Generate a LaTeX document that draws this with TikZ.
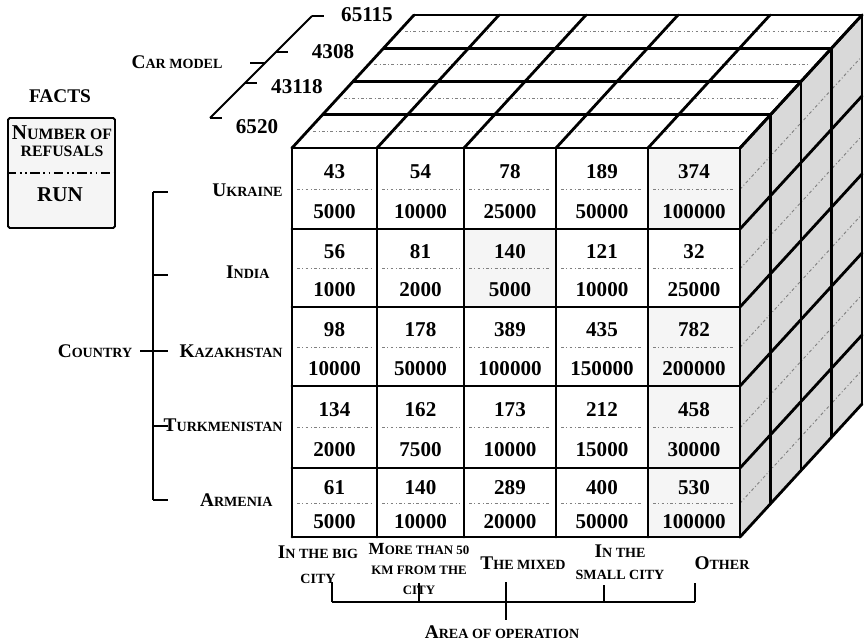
\documentclass[tikz,border=0pt]{standalone}
\usepackage{fontspec}
\setmainfont{Liberation Serif}
\usetikzlibrary{positioning, calc}

% small capitals made by hand (bold, first letter large)
\newcommand{\sml}[2][12]{{\fontsize{#1}{13}\selectfont\MakeUppercase{#2}}}
\newcommand{\smc}[3][12]{#2\sml[#1]{#3}}

\tikzset{
  cube/.style={line width=2.4pt, line cap=round, line join=round},
  dashmid/.style={gray, line width=0.8pt, dash pattern=on 2.5pt off 2pt on 0.8pt off 2pt},
  num/.style={font=\fontsize{18}{20}\selectfont\bfseries, inner sep=1pt},
  lbl/.style={font=\fontsize{16.5}{20}\selectfont\bfseries, align=center, inner sep=1pt},
  brace/.style={line width=1.7pt},
  factbox/.style={draw, line width=1.6pt, fill=gray!8, rounded corners=1.5pt,
    minimum width=32.1mm, minimum height=33mm, inner sep=0pt},
}

\begin{document}
\begin{tikzpicture}[x=0.3mm, y=-0.3mm]
  \useasboundingbox (0,0) rectangle (864,642);

  % Right face of the cube
  \fill[gray!30] (740,148) -- (862,15) -- (862,404) -- (740,537) -- cycle;
  \foreach \ya/\yb in {148/229, 229/307, 307/386, 386/468, 468/537} {
    \draw[dashmid] (740,{\ya+0.51*(\yb-\ya)}) -- ++(122,-133);
  }

  % Top face of the cube
  \fill[white] (292,148) -- (414,15) -- (862,15) -- (740,148) -- cycle;
  \foreach \k in {0,...,3} {
    \draw[dashmid] ({298+30.5*(\k+0.5)},{148-33.25*(\k+0.5)}) -- ++(436,0);
  }

  % Front cells: refusals / run
  \foreach \xa/\xb/\ya/\yb/\tint/\refs/\km [count=\i] in {
    292/377/148/229/0/43/5000, 377/464/148/229/0/54/10000, 464/556/148/229/0/78/25000,
    556/648/148/229/0/189/50000, 648/740/148/229/8/374/100000,
    292/377/229/307/0/56/1000, 377/464/229/307/0/81/2000, 464/556/229/307/8/140/5000,
    556/648/229/307/0/121/10000, 648/740/229/307/0/32/25000,
    292/377/307/386/0/98/10000, 377/464/307/386/0/178/50000, 464/556/307/386/0/389/100000,
    556/648/307/386/0/435/150000, 648/740/307/386/8/782/200000,
    292/377/386/468/0/134/2000, 377/464/386/468/0/162/7500, 464/556/386/468/0/173/10000,
    556/648/386/468/0/212/15000, 648/740/386/468/8/458/30000,
    292/377/468/537/0/61/5000, 377/464/468/537/0/140/10000, 464/556/468/537/0/289/20000,
    556/648/468/537/0/400/50000, 648/740/468/537/8/530/100000} {
    \fill[gray!\tint] (\xa,\ya) rectangle (\xb,\yb);
    \draw[dashmid] ({\xa+5},{\ya+0.51*(\yb-\ya)}) -- ({\xb-5},{\ya+0.51*(\yb-\ya)});
    \node[num] (ref\i) at ({(\xa+\xb)/2},{\ya+0.29*(\yb-\ya)}) {\refs};
    \node[num] (km\i) at ({(\xa+\xb)/2},{\ya+0.78*(\yb-\ya)}) {\km};
  }

  % Cube edges
  \foreach \k in {0,...,4} {
    \draw[cube] ({292+30.5*\k},{148-33.25*\k}) -- ++(448,0);
    \draw[cube] ({740+30.5*\k},{148-33.25*\k}) -- ++(0,389);
  }
  \foreach \x in {292,377,464,556,648,740} {
    \draw[cube] (\x,148) -- ++(122,-133);
    \draw[cube] (\x,148) -- (\x,537);
  }
  \foreach \y in {148,229,307,386,468,537} {
    \draw[cube] (292,\y) -- (740,\y);
    \draw[cube] (740,\y) -- ++(122,-133);
  }

  % Facts
  \node[lbl] (facts) at (60,96) {FACTS};
  \node[factbox] (fbox) at (61.5,173) {};
  \draw[line width=1.5pt, dash pattern=on 8pt off 3pt on 1.5pt off 3pt on 1.5pt off 3pt]
    (fbox.west) -- (fbox.east);
  \node[font=\fontsize{18}{15}\selectfont\bfseries, align=center, inner sep=0pt] (refusals) at (62,141)
    {N{\fontsize{13.5}{15}\selectfont UMBER OF}\\{\fontsize{13.5}{15}\selectfont REFUSALS}};
  \node[font=\fontsize{18}{20}\selectfont\bfseries] (factrun) at (60,195) {RUN};

  % Car model
  \node[lbl] (carmodel) at (177,62) {\smc{C}{ar model}};
  \node[num] (m1) at (257,127) {6520};
  \node[num] (m2) at (297,87) {43118};
  \node[num] (m3) at (333,52) {4308};
  \node[num] (m4) at (367,15) {65115};
  \coordinate (cmb) at (210,118);
  \coordinate (cmt) at (312,16);
  \draw[brace] (cmb) -- (cmt);
  \foreach \y in {118,83,52,16} {
    \draw[brace] ({210+118-\y},\y) -- ++(12,0);
  }
  \draw[brace] (250,63) -- (265,63);

  % Country
  \node[lbl, anchor=east] (ukraine) at (284,190) {\smc{U}{kraine}};
  \node[lbl, anchor=east] (india) at (271,272) {\smc{I}{ndia}};
  \node[lbl, anchor=east] (kazakh) at (284,351) {\smc{K}{azakhstan}};
  \node[lbl, anchor=east] (turkmen) at (284,425) {\smc{T}{urkmenistan}};
  \node[lbl, anchor=east] (armenia) at (274,500) {\smc{A}{rmenia}};
  \node[lbl] (country) at (95,351) {\smc{C}{ountry}};
  \coordinate (cot) at (153,192);
  \coordinate (cob) at (153,500);
  \draw[brace] (cot) -- (cob);
  \foreach \y in {192,275,351,426,500} {
    \draw[brace] (153,\y) -- ++(15,0);
  }
  \draw[brace] (140,351) -- (153,351);

  % Area of operation
  \node[lbl, font=\fontsize{16.5}{21}\selectfont\bfseries] (bigcity) at (318,565) {\smc{I}{n the big}\\\sml{city}};
  \node[lbl, font=\fontsize{14.5}{17}\selectfont\bfseries] (far) at (419,569) {\smc[11]{M}{ore than 50}\\\sml[11]{km from the}\\\sml[11]{city}};
  \node[lbl] (mixed) at (523,563) {\smc{T}{he mixed}};
  \node[lbl, font=\fontsize{16.5}{19}\selectfont\bfseries] (smallcity) at (620,562) {\smc{I}{n the}\\\sml{small city}};
  \node[lbl] (other) at (722,563) {\smc{O}{ther}};
  \node[lbl] (area) at (502,632) {\smc{A}{rea of operation}};
  \coordinate (al) at (332,602);
  \coordinate (ar) at (695,602);
  \draw[brace] (al) -- (ar);
  \foreach \x/\y in {332/582, 419/583, 506/582, 604/585, 695/583} {
    \draw[brace] (\x,602) -- (\x,\y);
  }
  \draw[brace] (506,602) -- (506,620);
\end{tikzpicture}
\end{document}
